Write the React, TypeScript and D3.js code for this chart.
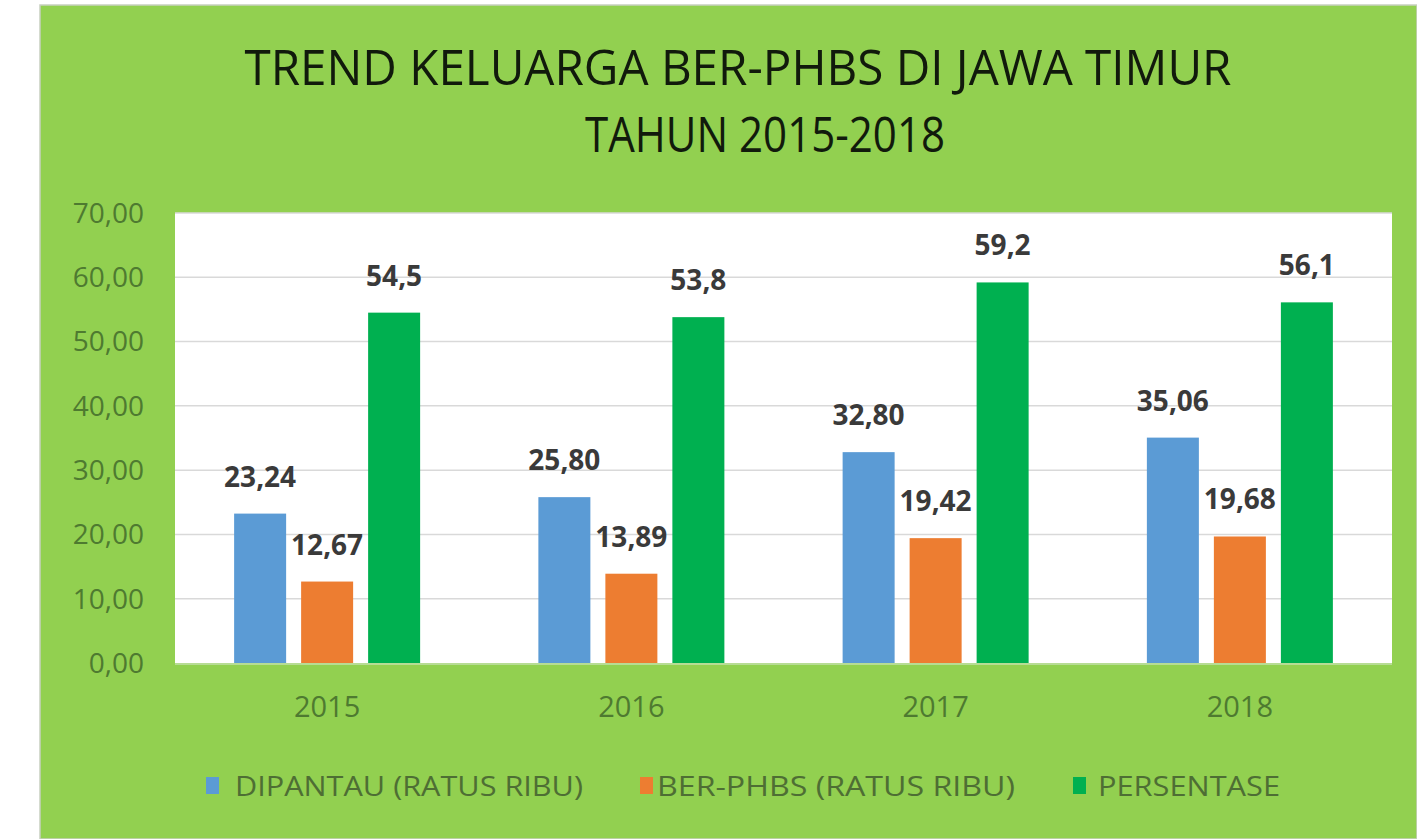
import React from 'react';
import * as d3 from 'd3';

const years = ['2015', '2016', '2017', '2018'];
const dipantau = [23.24, 25.8, 32.8, 35.06];
const berPhbs = [12.67, 13.89, 19.42, 19.68];
const persentase = [54.5, 53.8, 59.2, 56.1];
const dipantauLabels = ['23,24', '25,80', '32,80', '35,06'];
const berPhbsLabels = ['12,67', '13,89', '19,42', '19,68'];
const persentaseLabels = ['54,5', '53,8', '59,2', '56,1'];
const yTicks = [0, 10, 20, 30, 40, 50, 60, 70];
const seriesNames = ['DIPANTAU (RATUS RIBU)', 'BER-PHBS (RATUS RIBU)', 'PERSENTASE'];
const colors = ['#5b9bd5', '#ed7d31', '#00b050'];

const W = 1417;
const H = 839;
const plot = { left: 175, right: 1392, top: 213, bottom: 663 };
const font = "'Open Sans', 'DejaVu Sans', sans-serif";

export default function App() {
  const x = d3.scaleBand().domain(years).range([plot.left, plot.right]).padding(0);
  const y = d3.scaleLinear().domain([0, 70]).range([plot.bottom, plot.top]);

  const barW = 52;
  const barGap = 15;
  const inner = d3.scaleBand().domain(['0', '1', '2'])
    .range([-(barW * 3 + barGap * 2) / 2, (barW * 3 + barGap * 2) / 2])
    .paddingInner(barGap / (barW + barGap));

  const series = [
    { values: dipantau, labels: dipantauLabels },
    { values: berPhbs, labels: berPhbsLabels },
    { values: persentase, labels: persentaseLabels },
  ];

  // legend layout
  const legendItems = [
    { sq: 206, tx: 235, len: 348 },
    { sq: 640, tx: 657, len: 358 },
    { sq: 1073, tx: 1098, len: 182 },
  ];

  return (
    <>
      <style>{'body{margin:0;}'}</style>
      <svg width={W} height={H} style={{ display: 'block' }}>
        <rect x={0} y={0} width={W} height={H} fill="#ffffff" />
        <rect x={40} y={5} width={W - 40} height={H - 5} fill="#92d050" stroke="#c8cfc0" strokeWidth={1.5} />

        {/* title */}
        <text x={738} y={85} textAnchor="middle" fontFamily={font} fontSize={50} fill="#111a0c"
          textLength={987} lengthAdjust="spacingAndGlyphs">
          TREND KELUARGA BER-PHBS DI JAWA TIMUR
        </text>
        <text x={765} y={152} textAnchor="middle" fontFamily={font} fontSize={50} fill="#111a0c"
          textLength={360} lengthAdjust="spacingAndGlyphs">
          TAHUN 2015-2018
        </text>

        {/* plot area */}
        <rect x={plot.left} y={plot.top} width={plot.right - plot.left} height={plot.bottom - plot.top} fill="#ffffff" />
        {yTicks.filter(t => t > 0).map(t => (
          <line key={t} x1={plot.left} x2={plot.right} y1={y(t)} y2={y(t)} stroke="#d9d9d9" strokeWidth={1.5} />
        ))}

        {/* y axis labels */}
        {yTicks.map(t => (
          <text key={t} x={144} y={y(t)} dy="0.35em" textAnchor="end" fontFamily={font} fontSize={28}
            fill="#4e7a30">
            {d3.format('.2f')(t).replace('.', ',')}
          </text>
        ))}

        {/* bars */}
        {series.map((s, si) =>
          years.map((yr, i) => {
            const bx = (x(yr) as number) + x.bandwidth() / 2 + (inner(String(si)) as number);
            const by = y(s.values[i]);
            return (
              <g key={`${si}-${yr}`}>
                <rect x={bx} y={by} width={inner.bandwidth()} height={plot.bottom - by} fill={colors[si]} />
                <text x={bx + inner.bandwidth() / 2} y={by - 27} textAnchor="middle" fontFamily={font}
                  fontSize={28} fontWeight="bold" fill="#3a3a3a">
                  {s.labels[i]}
                </text>
              </g>
            );
          })
        )}

        <line x1={plot.left} x2={plot.right} y1={plot.bottom + 1} y2={plot.bottom + 1} stroke="#b7dc94" strokeWidth={2} />

        {/* x axis labels */}
        {years.map(yr => (
          <text key={yr} x={(x(yr) as number) + x.bandwidth() / 2} y={717} textAnchor="middle" fontFamily={font}
            fontSize={29} fill="#4e7a30">
            {yr}
          </text>
        ))}

        {/* legend */}
        {seriesNames.map((name, i) => (
          <g key={name}>
            <rect x={legendItems[i].sq} y={777} width={13} height={17} fill={colors[i]} />
            <text x={legendItems[i].tx} y={796} fontFamily={font} fontSize={27} fill="#4e6e34"
              textLength={legendItems[i].len} lengthAdjust="spacingAndGlyphs">
              {name}
            </text>
          </g>
        ))}
      </svg>
    </>
  );
}
